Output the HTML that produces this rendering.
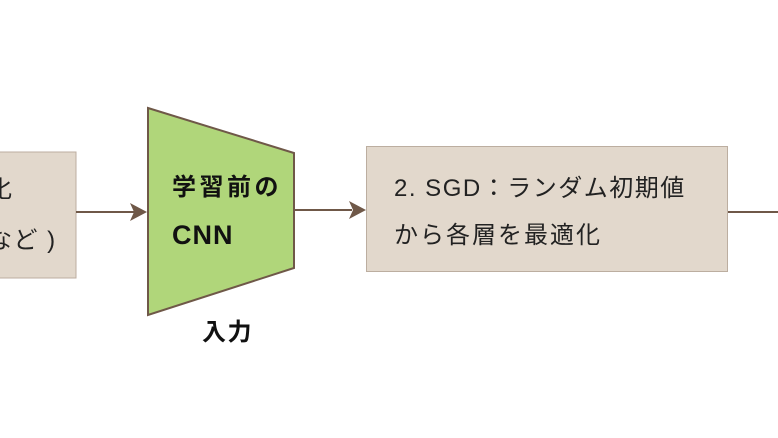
<!DOCTYPE html>
<html><head><meta charset="utf-8"><style>
body{margin:0;background:#fff;width:778px;height:438px;overflow:hidden;position:relative;font-family:"Liberation Sans","Noto Sans CJK JP",sans-serif;}
.t{position:absolute;white-space:nowrap;color:#222;font-size:24px;line-height:1;letter-spacing:1.5px;}
</style></head><body>
<svg width="778" height="438" style="position:absolute;left:0;top:0">
<rect x="-10" y="152" width="86" height="126" fill="#e2d8cc" stroke="#bcaea0" stroke-width="1"/>
<rect x="366.5" y="146.5" width="361" height="125" fill="#e2d8cc" stroke="#bcaea0" stroke-width="1"/>
<polygon points="148,108 294,153 294,268 148,315" fill="#b0d67a" stroke="#6f5848" stroke-width="2"/>
<g stroke="#6f5848" stroke-width="2" fill="#6f5848">
<line x1="76" y1="212" x2="134" y2="212"/>
<polygon points="147,212 130,203 134,212 130,221" stroke="none"/>
<line x1="294" y1="210" x2="352" y2="210"/>
<polygon points="366,210 349,201 353,210 349,219" stroke="none"/>
<line x1="728" y1="212" x2="778" y2="212"/>
</g>
</svg>
<div class="t" style="left:-12px;top:178px">化</div>
<div class="t" style="left:-12px;top:229px">など )</div>
<div class="t" style="left:172px;top:176px;font-weight:bold;color:#111;letter-spacing:3.5px">学習前の</div>
<div class="t" style="left:172px;top:222px;font-weight:bold;color:#111;font-size:27px;letter-spacing:1px">CNN</div>
<div class="t" style="left:202px;top:321px;font-weight:bold;color:#111">入力</div>
<div class="t" style="left:394px;top:177px">2. SGD：ランダム初期値</div>
<div class="t" style="left:394px;top:224px;letter-spacing:2px">から各層を最適化</div>
</body></html>
